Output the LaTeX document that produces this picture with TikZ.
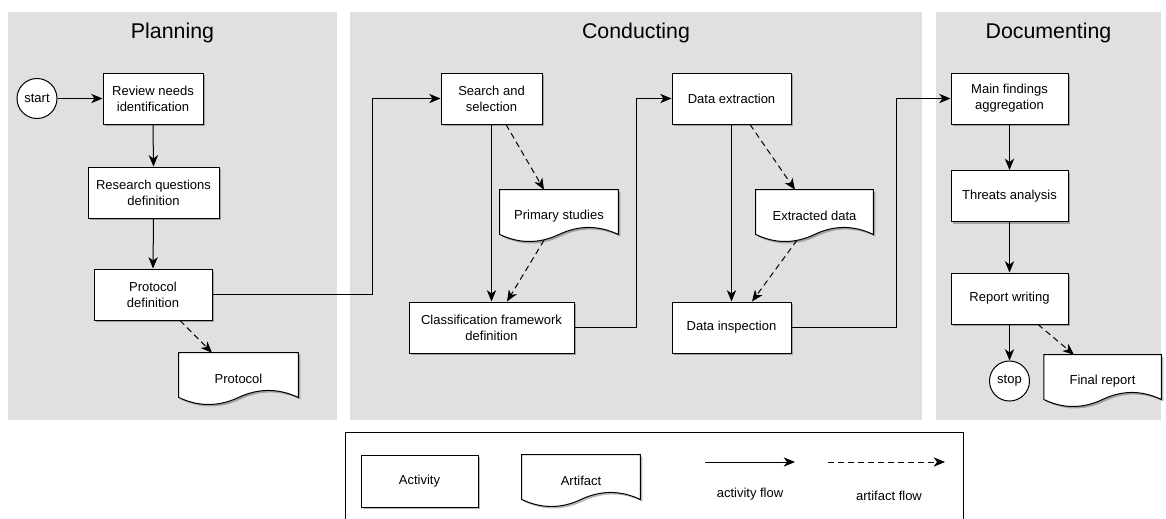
\documentclass[tikz,border=0pt]{standalone}
\usepackage{fontspec}
\setmainfont{Liberation Sans}
\usetikzlibrary{arrows.meta,calc,shadows}
\newlength\upx \setlength\upx{0.75pt}
\definecolor{panelgray}{RGB}{224,224,224}
\newcommand\nodefont{\fontsize{9.75}{12}\selectfont}
\pgfdeclarelayer{panellayer}
\pgfdeclarelayer{doclayer}
\pgfsetlayers{panellayer,doclayer,main}
\tikzset{
  panel/.style={fill=panelgray, draw=none},
  paneltitle/.style={font=\fontsize{16}{19}\selectfont, inner sep=0pt},
  softshadow/.style={drop shadow={shadow xshift=1.5pt, shadow yshift=-1.5pt, opacity=0.28, fill=black}},
  act/.style={draw=black, fill=white, line width=0.75pt, minimum height=51\upx, inner sep=0pt, align=center, font=\nodefont, softshadow},
  docnode/.style={minimum height=52\upx, inner sep=0pt, align=center, font=\nodefont},
  docline/.style={draw=black, fill=white, line width=0.75pt, softshadow},
  term/.style={circle, draw=black, fill=white, line width=0.75pt, minimum size=40\upx, inner sep=0pt, font=\nodefont},
  flow/.style={draw=black, line width=0.75pt, -{Stealth[length=8.5pt,width=7pt,inset=2.5pt]}},
  aflow/.style={flow, dash pattern=on 4.5pt off 3pt},
  legendtext/.style={font=\nodefont, inner sep=0pt},
}
\newcommand\docpath[1]{%
  \begin{pgfonlayer}{doclayer}
  \draw[docline] (#1.north west) -- (#1.north east) -- ($(#1.south east)+(0,-7.8)$)
    .. controls ($(#1.south west)!0.8333!(#1.south east)+(0,-17.16)$) and ($(#1.south west)!0.6667!(#1.south east)+(0,-17.16)$) .. ($(#1.south)+(0,-7.8)$)
    .. controls ($(#1.south west)!0.3333!(#1.south east)+(0,1.56)$) and ($(#1.south west)!0.1667!(#1.south east)+(0,1.56)$) .. ($(#1.south west)+(0,-7.8)$)
    -- cycle;
  \end{pgfonlayer}}
\begin{document}
\begin{tikzpicture}[x=0.75pt, y=-0.75pt]
\useasboundingbox (0,0) rectangle (1166,518);
\clip (0,0) rectangle (1166,518);

% panels
\begin{pgfonlayer}{panellayer}
\fill[panel] (8,12) rectangle (337,420);
\fill[panel] (350,12) rectangle (922,420);
\fill[panel] (936,12) rectangle (1161,420);
\end{pgfonlayer}
\node[paneltitle] (tplan) at (172.5,33) {Planning};
\node[paneltitle] (tcond) at (636,33) {Conducting};
\node[paneltitle] (tdoc) at (1048.5,33) {Documenting};

% Planning
\node[term] (start) at (37,98.5) {start};
\node[act, minimum width=100\upx] (review) at (153,98.5) {Review needs\\identification};
\node[act, minimum width=131\upx] (research) at (153.5,192.5) {Research questions\\definition};
\node[act, minimum width=118\upx] (protdef) at (153,294.5) {Protocol\\definition};
\node[docnode, minimum width=119\upx] (protocol) at (238.5,379) {Protocol};
\docpath{protocol}

% Conducting
\node[act, minimum width=101\upx] (search) at (491.5,98.5) {Search and\\selection};
\node[docnode, minimum width=118\upx] (primary) at (559,216) {Primary studies};
\docpath{primary}
\node[act, minimum width=165\upx] (classif) at (491.5,327.5) {Classification framework\\definition};
\node[act, minimum width=119\upx] (dataext) at (731.5,98.5) {Data extraction};
\node[docnode, minimum width=117\upx] (extracted) at (814.5,216) {Extracted data};
\docpath{extracted}
\node[act, minimum width=119\upx] (inspect) at (731.5,327.5) {Data inspection};

% Documenting
\node[act, minimum width=117\upx] (mainf) at (1009.5,98.5) {Main findings\\aggregation};
\node[act, minimum width=117\upx] (threats) at (1009.5,196) {Threats analysis};
\node[act, minimum width=117\upx] (report) at (1009.5,298.5) {Report writing};
\node[term] (stop) at (1009.5,381) {stop};
\node[docnode, minimum width=117\upx] (final) at (1102.5,381) {Final report};
\docpath{final}

% activity flows
\draw[flow] (start.east) -- (review.west);
\draw[flow] (review.south) -- (research.north);
\draw[flow] (research.south) -- (protdef.north);
\draw[flow] (protdef.east) -- ++(160,0) |- (search.west);
\draw[flow] (search.south) -- (classif.north);
\draw[flow] (classif.east) -- ++(62,0) |- (dataext.west);
\draw[flow] (dataext.south) -- (inspect.north);
\draw[flow] (inspect.east) -- ++(105,0) |- (mainf.west);
\draw[flow] (mainf.south) -- (threats.north);
\draw[flow] (threats.south) -- (report.north);
\draw[flow] (report.south) -- (stop.north);

% artifact flows
\draw[aflow] ($(protdef.south)+(27,0)$) -- ($(protocol.north)+(-26.5,0)$);
\draw[aflow] ($(search.south)+(14.5,0)$) -- ($(primary.north)+(-15,0)$);
\draw[aflow] ($(primary.south)+(-15,-2)$) -- ($(classif.north)+(15.5,0)$);
\draw[aflow] ($(dataext.south)+(18.5,0)$) -- ($(extracted.north)+(-19.5,0)$);
\draw[aflow] ($(extracted.south)+(-17.5,-2)$) -- ($(inspect.north)+(20.5,0)$);
\draw[aflow] ($(report.south)+(28.5,0)$) -- ($(final.north)+(-28.5,0)$);

% legend
\draw[black, line width=0.75pt] (345,432) rectangle (963,540);
\node[act, minimum width=117\upx, minimum height=52\upx] (lact) at (419.5,481) {Activity};
\node[docnode, minimum width=118\upx] (lart) at (581,481) {Artifact};
\docpath{lart}
\coordinate (la1) at (705,462);
\coordinate (la2) at (795,462);
\coordinate (lb1) at (828,462);
\coordinate (lb2) at (945,462);
\draw[flow] (la1) -- (la2);
\draw[aflow] (lb1) -- (lb2);
\node[legendtext] (lat) at (750,494) {activity flow};
\node[legendtext] (lbt) at (889,496) {artifact flow};
\end{tikzpicture}
\end{document}
